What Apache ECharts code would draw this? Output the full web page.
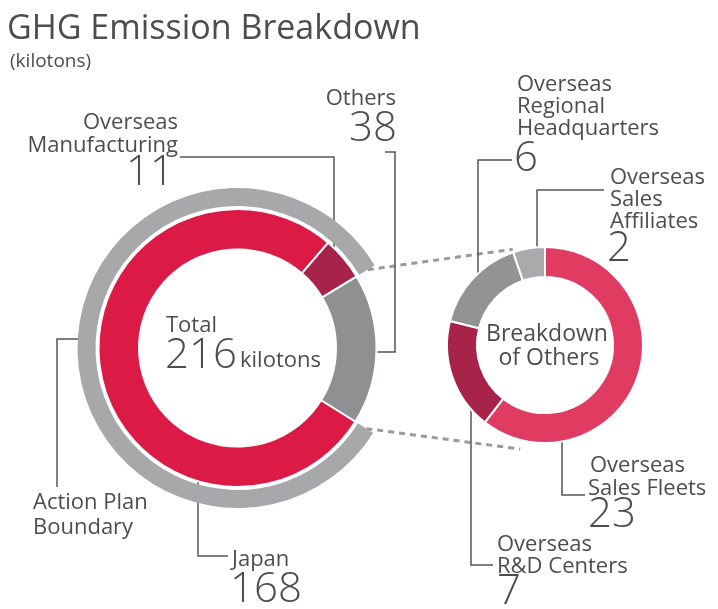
<!DOCTYPE html>
<html>
<head>
<meta charset="utf-8">
<script src="https://cdn.jsdelivr.net/npm/echarts@6/dist/echarts.min.js"></script>
<style>
html, body { margin: 0; padding: 0; background: #fff; }
#chart { width: 718px; height: 609px; }
</style>
</head>
<body>
<div id="chart"></div>
<script>
// GHG emissions, kilotons
var mainNames = ['Others', 'Japan', 'Overseas Manufacturing'];
var mainValues = [38, 168, 11];
var othersNames = ['Overseas Sales Fleets', 'Overseas R&D Centers', 'Overseas Regional Headquarters', 'Overseas Sales Affiliates'];
var othersValues = [23, 7, 6, 2];
var totalValue = 216;

var mainColors = ['#8f9092', '#db1a45', '#a8234a'];
var othersColors = ['#e03c62', '#a8234a', '#929395', '#a9aaac'];
var ringGray = '#a7a8aa';
var textColor = '#4d4d4d';
var font = '"Open Sans", "Noto Sans", sans-serif';

var leftC = [237.5, 348];
var rightC = [545, 345];
var startLeft = 31;
var sumMain = mainValues.reduce(function (a, b) { return a + b; }, 0);
var othersEndAngle = startLeft - mainValues[0] / sumMain * 360;

function polar(c, r, deg) {
  var a = deg * Math.PI / 180;
  return [c[0] + r * Math.cos(a), c[1] - r * Math.sin(a)];
}

var chart = echarts.init(document.getElementById('chart'));

function txt(s, x, y, size, align, weight) {
  return {
    type: 'text',
    silent: true,
    style: {
      text: s, x: x, y: y,
      fill: textColor,
      font: (weight || 'normal') + ' ' + size + 'px ' + font,
      textAlign: align || 'left',
      textVerticalAlign: 'middle'
    }
  };
}
function num(s, x, y, size, align) {
  return txt(s, x, y, size, align, '300');
}
function leader(points) {
  return {
    type: 'polyline', silent: true,
    shape: { points: points },
    style: { stroke: '#555', lineWidth: 1.5, fill: null }
  };
}
function dashed(p1, p2) {
  return {
    type: 'line', silent: true,
    shape: { x1: p1[0], y1: p1[1], x2: p2[0], y2: p2[1] },
    style: { stroke: '#9a9a9c', lineWidth: 3, lineDash: [6, 5] }
  };
}

var graphics = [
  txt('GHG Emission Breakdown', 7, 29, 34),
  txt('(kilotons)', 10, 62, 19),

  dashed(polar(leftC, 152, startLeft), polar(rightC, 101, 108.6)),
  dashed(polar(leftC, 152, othersEndAngle), polar(rightC, 107, -103.4)),

  // main donut labels
  txt('Total', 166, 326, 22),
  num(String(totalValue), 165, 356, 42),
  txt('kilotons', 240, 361, 22),

  txt('Others', 396, 99, 22, 'right'),
  num(String(mainValues[0]), 397, 129, 42, 'right'),
  leader([[385, 152], [395, 152], [395, 352], [377, 352]]),

  txt('Overseas', 178, 123, 22, 'right'),
  txt('Manufacturing', 178, 146, 22, 'right'),
  num(String(mainValues[2]), 174, 173, 42, 'right'),
  leader([[180, 157], [334, 157], [334, 263]]),

  txt('Action Plan', 33, 503, 22),
  txt('Boundary', 33, 528, 22),
  leader([[57, 487], [57, 339], [86, 339]]),

  txt('Japan', 232, 560, 22),
  num(String(mainValues[1]), 230, 590, 42),
  leader([[198, 462], [198, 556], [228, 556]]),

  // breakdown donut labels
  txt('Breakdown', 547, 334, 23, 'center'),
  txt('of Others', 549, 358, 23, 'center'),

  txt('Overseas', 517, 85, 22),
  txt('Regional', 517, 107, 22),
  txt('Headquarters', 517, 129, 22),
  num(String(othersValues[2]), 514, 159, 42),
  leader([[512, 160], [478, 160], [478, 289]]),

  txt('Overseas', 610, 178, 22),
  txt('Sales', 610, 200, 22),
  txt('Affiliates', 610, 222, 22),
  num(String(othersValues[3]), 607, 249, 42),
  leader([[604, 190], [537, 190], [537, 263]]),

  txt('Overseas', 590, 466, 22),
  txt('Sales Fleets', 588, 489, 22),
  num(String(othersValues[0]), 588, 515, 42),
  leader([[562, 438], [562, 495], [585, 495]]),

  txt('Overseas', 497, 545, 22),
  txt('R&D Centers', 497, 567, 22),
  num(String(othersValues[1]), 497, 592, 42),
  leader([[471, 398], [471, 565], [493, 565]])
];

chart.setOption({
  animation: false,
  graphic: { elements: graphics },
  series: [
    {
      // action plan boundary ring (everything except Others)
      type: 'pie',
      silent: true,
      center: leftC,
      radius: [142, 160],
      startAngle: startLeft,
      clockwise: true,
      label: { show: false },
      labelLine: { show: false },
      data: [
        { value: mainValues[0], itemStyle: { color: 'rgba(0,0,0,0)' } },
        { value: mainValues[1] + mainValues[2], itemStyle: { color: ringGray } }
      ]
    },
    {
      type: 'pie',
      silent: true,
      center: leftC,
      radius: [98.5, 139],
      startAngle: startLeft,
      clockwise: true,
      label: { show: false },
      labelLine: { show: false },
      itemStyle: { borderColor: '#fff', borderWidth: 2 },
      data: mainNames.map(function (n, i) {
        return { name: n, value: mainValues[i], itemStyle: { color: mainColors[i] } };
      })
    },
    {
      type: 'pie',
      silent: true,
      center: rightC,
      radius: [68, 98],
      startAngle: 90,
      clockwise: true,
      label: { show: false },
      labelLine: { show: false },
      itemStyle: { borderColor: '#fff', borderWidth: 2 },
      data: othersNames.map(function (n, i) {
        return { name: n, value: othersValues[i], itemStyle: { color: othersColors[i] } };
      })
    }
  ]
});
</script>
</body>
</html>
